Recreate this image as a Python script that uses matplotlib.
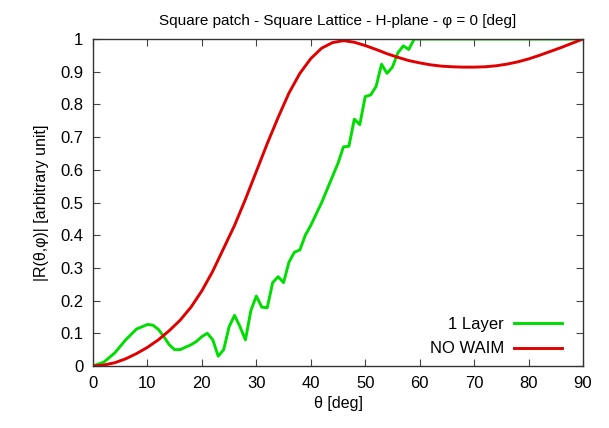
import matplotlib
matplotlib.use("Agg")
import matplotlib.pyplot as plt

plt.rcParams['font.family'] = ['Liberation Sans', 'DejaVu Sans']

# 1 Layer (green)
theta_1layer = [0, 2, 4, 6, 8, 10, 11, 12, 13, 14, 15, 16, 18, 19, 20, 21, 22, 23, 24, 25,
                26, 27, 28, 29, 30, 31, 32, 33, 34, 35, 36, 37, 38, 39, 40, 41, 42, 43, 44,
                45, 46, 47, 48, 49, 50, 51, 52, 53, 54, 55, 56, 57, 58, 59, 90]
r_1layer = [0.0, 0.012, 0.04, 0.08, 0.113, 0.127, 0.125, 0.112, 0.09, 0.065, 0.05, 0.05,
            0.065, 0.075, 0.09, 0.1, 0.08, 0.03, 0.05, 0.12, 0.155, 0.12, 0.08, 0.17, 0.214,
            0.18, 0.178, 0.255, 0.273, 0.255, 0.318, 0.348, 0.355, 0.4, 0.43, 0.465, 0.5,
            0.54, 0.58, 0.62, 0.67, 0.672, 0.755, 0.738, 0.824, 0.829, 0.855, 0.923, 0.895,
            0.914, 0.958, 0.979, 0.968, 1.0, 1.0]

# NO WAIM (red)
theta_nowaim = [0, 2, 4, 6, 8, 10, 12, 14, 16, 18, 20, 22, 24, 26, 28, 30, 32, 34, 36, 38,
                40, 42, 44, 46, 48, 50, 52, 54, 56, 58, 60, 62, 64, 66, 68, 70, 72, 74, 76,
                78, 80, 82, 84, 86, 88, 90]
r_nowaim = [0.0, 0.003, 0.01, 0.022, 0.038, 0.057, 0.08, 0.108, 0.14, 0.18, 0.23, 0.29,
            0.36, 0.43, 0.51, 0.595, 0.68, 0.76, 0.835, 0.895, 0.94, 0.972, 0.989, 0.995,
            0.99, 0.98, 0.968, 0.955, 0.944, 0.934, 0.927, 0.921, 0.917, 0.915, 0.914,
            0.914, 0.915, 0.918, 0.923, 0.93, 0.939, 0.95, 0.962, 0.974, 0.987, 1.0]

xticks = [0, 10, 20, 30, 40, 50, 60, 70, 80, 90]
yticks = [0, 0.1, 0.2, 0.3, 0.4, 0.5, 0.6, 0.7, 0.8, 0.9, 1]
ytick_labels = ['0', '0.1', '0.2', '0.3', '0.4', '0.5', '0.6', '0.7', '0.8', '0.9', '1']

fig = plt.figure(figsize=(6.09, 4.28), dpi=100)
ax = fig.add_axes([93/609, 1-366/428, (583-93)/609, (366-39)/428])

ax.plot(theta_1layer, r_1layer, color='#00dd00', lw=2.1, label='1 Layer')
ax.plot(theta_nowaim, r_nowaim, color='#e00000', lw=2.1, label='NO WAIM')

ax.set_xlim(0, 90)
ax.set_ylim(0, 1)
ax.set_xticks(xticks)
ax.set_yticks(yticks)
ax.set_yticklabels(ytick_labels)
ax.tick_params(direction='in', length=5, width=0.8, color='#444444', top=True, right=True,
               labelsize=12, pad=7)
for s in ax.spines.values():
    s.set_color('#333333')
    s.set_linewidth(1.0)

ax.set_title('Square patch - Square Lattice - H-plane - φ = 0 [deg]', fontsize=11, pad=10)
ax.set_xlabel('θ [deg]', fontsize=11.5, labelpad=4)
ax.set_ylabel('|R(θ,φ)| [arbitrary unit]', fontsize=11.5, labelpad=8)

leg = ax.legend(loc='lower right', frameon=False, markerfirst=False, fontsize=12,
                handlelength=2.9, handletextpad=0.6, borderaxespad=0.6, labelspacing=0.55,
                bbox_to_anchor=(1 - 4/490, -7/327))

fig.savefig('out.png', dpi=100)
